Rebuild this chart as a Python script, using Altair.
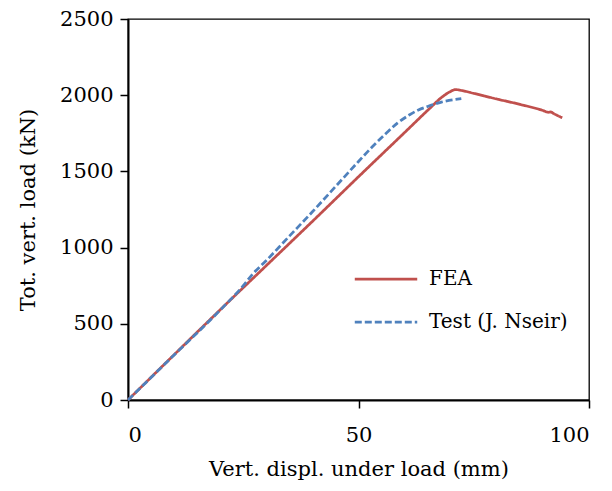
import altair as alt
import pandas as pd

fea_x = [0, 10, 20, 30, 40, 50, 60, 65.4, 68, 70, 71, 72.5, 75, 80, 85, 90, 91.2, 91.7, 92.3, 94.2]
fea_y = [0, 297, 592, 882, 1172, 1465, 1755, 1912, 1985, 2025, 2037, 2030, 2012, 1975, 1940, 1900, 1888, 1890, 1880, 1852]
test_x = [0, 10, 20, 25, 27, 30, 35, 40, 45, 50, 53, 56, 58.5, 61, 63, 65, 68, 72.3]
test_y = [0, 295, 590, 750, 825, 915, 1075, 1235, 1400, 1565, 1662, 1750, 1818, 1870, 1903, 1926, 1955, 1977]
series = ["FEA", "Test (J. Nseir)"]

rows = []
for i, (x, y) in enumerate(zip(fea_x, fea_y)):
    rows.append({"s": series[0], "x": x, "y": y, "o": i})
for i, (x, y) in enumerate(zip(test_x, test_y)):
    rows.append({"s": series[1], "x": x, "y": y, "o": i})
df = pd.DataFrame(rows)

FONT = "DejaVu Serif"

chart = alt.Chart(df).mark_line(strokeWidth=2.75, interpolate="monotone").encode(
    x=alt.X("x:Q", scale=alt.Scale(domain=[0, 100], nice=False),
            axis=alt.Axis(values=[0, 50, 100], title="Vert. displ. under load (mm)", format="d",
                          grid=False, tickSize=8, labelPadding=16, titlePadding=13)),
    y=alt.Y("y:Q", scale=alt.Scale(domain=[0, 2500], nice=False),
            axis=alt.Axis(values=[0, 500, 1000, 1500, 2000, 2500], title="Tot. vert. load (kN)", format="d",
                          grid=False, tickSize=8, labelPadding=7, titlePadding=21)),
    color=alt.Color("s:N", scale=alt.Scale(domain=series, range=["#C0504D", "#4F81BD"]),
                    legend=alt.Legend(title=None, orient="none", legendX=225, legendY=227,
                                      symbolType="stroke", symbolSize=3900, symbolStrokeWidth=2.75,
                                      labelFontSize=20, labelFont=FONT, labelColor="black",
                                      rowPadding=-4, labelOffset=10)),
    strokeDash=alt.StrokeDash("s:N", scale=alt.Scale(domain=series, range=[[1, 0], [7, 3]]),
                              legend=None),
    order="o:Q",
).properties(
    width=461, height=381,
    autosize=alt.AutoSizeParams(type="none"),
    padding={"left": 120, "top": 11, "right": 15, "bottom": 81},
).configure_view(
    stroke="black", strokeWidth=1.3
).configure_axis(
    domainColor="black", domainWidth=2, tickColor="black", tickWidth=1.5,
    labelFont=FONT, labelFontSize=21, labelColor="black",
    titleFont=FONT, titleFontSize=21, titleColor="black", titleFontWeight="normal",
)

chart.save("out.html", embed_options={"renderer": "svg", "actions": False})
